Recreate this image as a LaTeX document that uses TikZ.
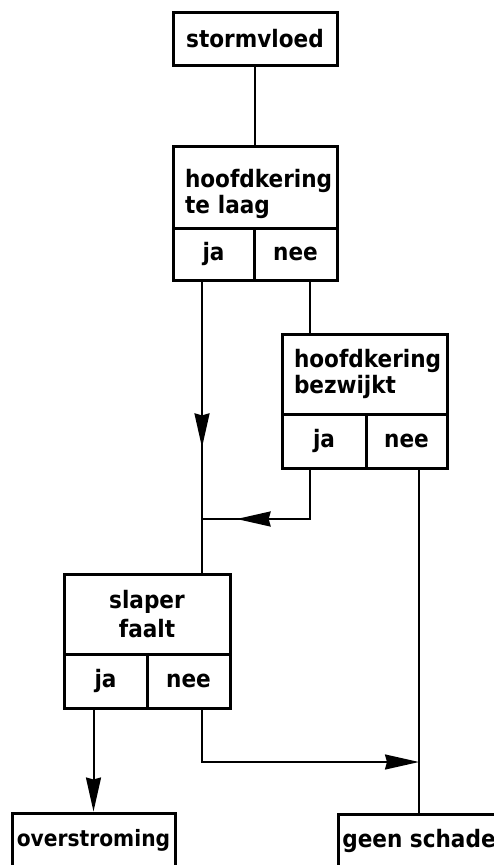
\documentclass[tikz,border=0pt]{standalone}
\usepackage{fontspec}
\setmainfont{DejaVu Sans Condensed}
\usetikzlibrary{arrows.meta,decorations.markings}

\begin{document}
\begin{tikzpicture}[x=1pt,y=-1pt,>={Stealth[length=34pt,width=15pt,inset=2pt]},
box/.style={draw=black,line width=3pt,fill=white,align=center,inner sep=0pt,
  font=\fontsize{24}{26}\selectfont\bfseries},
question/.style={box,minimum width=#1,text width=#1-24pt,inner xsep=12pt,align=left},
answer/.style={box,minimum width=#1,minimum height=54pt},
flow/.style={line width=2pt,draw=black},
mid arrow/.style={postaction={decorate},
  decoration={markings,mark=at position #1 with {\arrow{>}}}}]
\useasboundingbox (0,0) rectangle (494,865);
% tracks of the vertical lines
\coordinate (left) at (202,0);
\coordinate (right) at (310,0);
\coordinate (merge) at (202,519);
\coordinate (split) at (419,762);
\node[box,minimum width=164pt,minimum height=53pt] (storm) at (255,38.5) {stormvloed};
\node[question=164pt,minimum height=82pt] (laag) at (255,187) {\rule{0pt}{32pt}hoofdkering\\te laag};
\node[answer=81pt,minimum height=52pt] (laag-ja) at (213.5,254) {ja};
\node[answer=83pt,minimum height=52pt] (laag-nee) at (295.5,254) {nee};
\node[question=165pt,minimum height=80pt] (bez) at (364.5,374) {hoofdkering\\bezwijkt};
\node[answer=84pt] (bez-ja) at (324,441) {ja};
\node[answer=81pt] (bez-nee) at (406.5,441) {nee};
\node[box,minimum width=166pt,minimum height=80pt] (slaper) at (147,614) {slaper\\[3pt]faalt};
\node[answer=83pt] (slaper-ja) at (105.5,681) {ja};
\node[answer=83pt] (slaper-nee) at (188.5,681) {nee};
\node[answer=163pt,font=\fontsize{22.5}{26}\selectfont\bfseries] (over) at (93.5,840) {overstroming};
\node[answer=162pt] (geen) at (419,841) {geen schade};
\draw[flow] (storm) -- (laag);
\draw[flow,mid arrow=0.57] (laag-ja.south -| left) -- (slaper.north -| left);
\draw[flow] (laag-nee.south -| right) -- (bez.north -| right);
\draw[flow,mid arrow=0.78] (bez-ja.south -| right) |- (merge);
\draw[flow,->] (slaper-ja.south -| over.north) -- (over.north);
\draw[flow,->] (slaper-nee.south -| left) |- (split);
\draw[flow] (bez-nee.south -| geen.north) -- (geen.north);
\end{tikzpicture}
\end{document}
